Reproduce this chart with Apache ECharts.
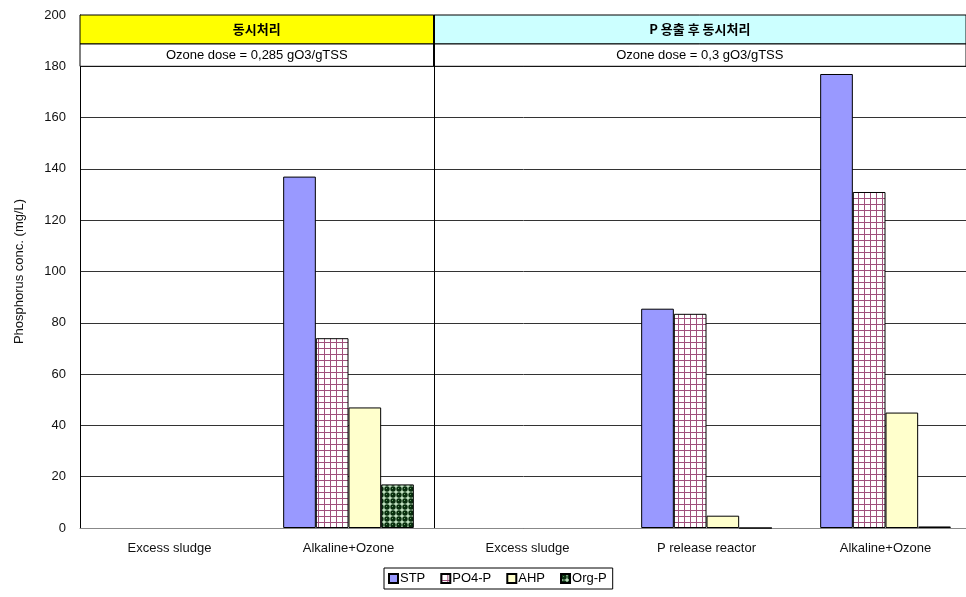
<!DOCTYPE html>
<html>
<head>
<meta charset="utf-8">
<script src="https://cdn.jsdelivr.net/npm/echarts@6/dist/echarts.min.js"></script>
<style>
  html, body { margin: 0; padding: 0; background: #fff; overflow: hidden; }
  #main { width: 966px; height: 597px; }
</style>
</head>
<body>
<div id="main"></div>
<script>
var categories = ['Excess sludge', 'Alkaline+Ozone', 'Excess sludge', 'P release reactor', 'Alkaline+Ozone'];
var stp  = [null, 137, null, 85.5, 177];
var po4p = [null, 74, null, 83.5, 131];
var ahp  = [null, 47, null, 4.8, 45];
var orgp = [null, 17, null, 0, 0.6];

var groupTitles = ['동시처리', 'P 용출 후 동시처리'];
var doseTexts = ['Ozone dose = 0,285 gO3/gTSS', 'Ozone dose = 0,3 gO3/gTSS'];

var latin = '"Liberation Sans", Arial, sans-serif';
var kr = '"Noto Sans CJK KR", sans-serif';

// 격자 무늬 (PO4-P)
function gridPattern() {
  var c = document.createElement('canvas');
  c.width = 6; c.height = 6;
  var ctx = c.getContext('2d');
  ctx.fillStyle = '#ffffff';
  ctx.fillRect(0, 0, 6, 6);
  ctx.strokeStyle = '#a0507c';
  ctx.lineWidth = 1;
  ctx.beginPath();
  ctx.moveTo(0.5, 0); ctx.lineTo(0.5, 6);
  ctx.moveTo(0, 0.5); ctx.lineTo(6, 0.5);
  ctx.stroke();
  return c;
}
// 점 무늬 (Org-P)
function dotPattern() {
  var c = document.createElement('canvas');
  c.width = 6; c.height = 6;
  var ctx = c.getContext('2d');
  ctx.fillStyle = '#bfe0bf';
  ctx.fillRect(0, 0, 6, 6);
  ctx.fillStyle = '#082e0e';
  ctx.beginPath();
  ctx.arc(3, 3, 2.7, 0, Math.PI * 2);
  ctx.fill();
  ctx.fillStyle = '#5f985f';
  ctx.fillRect(2, 2, 1, 1);
  return c;
}

var chart = echarts.init(document.getElementById('main'));

var border = { borderColor: '#000', borderWidth: 1 };

var option = {
  animation: false,
  grid: { left: 80, right: -9, top: 15, bottom: 69, outerBoundsMode: 'none', containLabel: false },
  legend: {
    left: 384, top: 568,
    icon: 'rect',
    itemWidth: 9, itemHeight: 9, itemGap: 15,
    borderColor: '#000', borderWidth: 1,
    padding: [4, 6, 4, 4],
    textStyle: { fontFamily: latin, fontSize: 13, color: '#000', padding: [0, 0, 0, -3] },
    data: ['STP', 'PO4-P', 'AHP', 'Org-P']
  },
  xAxis: [
    {
      type: 'category',
      data: categories,
      axisLine: { lineStyle: { color: '#888' } },
      axisTick: { inside: true, length: 4, lineStyle: { color: '#555' } },
      axisLabel: { color: '#111', fontFamily: latin, fontSize: 13, margin: 14 }
    },
    { type: 'value', min: 0, max: 5, show: false }
  ],
  yAxis: {
    type: 'value',
    min: 0, max: 200, interval: 20,
    name: 'Phosphorus conc. (mg/L)',
    nameLocation: 'middle',
    nameGap: 54,
    nameTextStyle: { fontFamily: latin, fontSize: 13, color: '#111' },
    axisLine: { show: true, lineStyle: { color: '#000' } },
    axisTick: { show: false },
    axisLabel: { color: '#111', fontFamily: latin, fontSize: 13, margin: 14 },
    splitLine: { lineStyle: { color: '#333', width: 1 } }
  },
  series: [
    {
      name: 'STP', type: 'bar', data: stp,
      barGap: '0%', barCategoryGap: '27%',
      itemStyle: Object.assign({ color: '#9999ff' }, border)
    },
    {
      name: 'PO4-P', type: 'bar', data: po4p,
      itemStyle: Object.assign({ color: { image: gridPattern(), repeat: 'repeat' } }, border)
    },
    {
      name: 'AHP', type: 'bar', data: ahp,
      itemStyle: Object.assign({ color: '#ffffcc' }, border)
    },
    {
      name: 'Org-P', type: 'bar', data: orgp,
      itemStyle: Object.assign({ color: { image: dotPattern(), repeat: 'repeat' } }, border)
    },
    {
      // 상단 머리표 + 구분선
      type: 'scatter', xAxisIndex: 1, yAxisIndex: 0, data: [], silent: true,
      clip: false,
      z: 5,
      markArea: {
        silent: true,
        itemStyle: { borderColor: '#000', borderWidth: 1 },
        label: { position: 'inside', color: '#000' },
        data: [
          [{ xAxis: -0.035, yAxis: 188.7, name: groupTitles[0],
             itemStyle: { color: '#ffff00' },
             label: { fontFamily: kr, fontWeight: 'bold', fontSize: 13 } },
           { xAxis: 1.975, yAxis: 200 }],
          [{ xAxis: 1.975, yAxis: 188.7, name: groupTitles[1],
             itemStyle: { color: '#ccffff' },
             label: { fontFamily: kr, fontWeight: 'bold', fontSize: 13 } },
           { xAxis: 4.95, yAxis: 200 }],
          [{ xAxis: 0, yAxis: 180, name: doseTexts[0],
             itemStyle: { color: '#ffffff' },
             label: { fontFamily: latin, fontSize: 13 } },
           { xAxis: 1.975, yAxis: 188.7 }],
          [{ xAxis: 1.975, yAxis: 180, name: doseTexts[1],
             itemStyle: { color: '#ffffff' },
             label: { fontFamily: latin, fontSize: 13 } },
           { xAxis: 4.95, yAxis: 188.7 }]
        ]
      },
      markLine: {
        silent: true, symbol: 'none',
        label: { show: false },
        lineStyle: { color: '#000', width: 1, type: 'solid' },
        data: [{ xAxis: 1.975 }]
      }
    }
  ]
};

chart.setOption(option);
</script>
</body>
</html>
